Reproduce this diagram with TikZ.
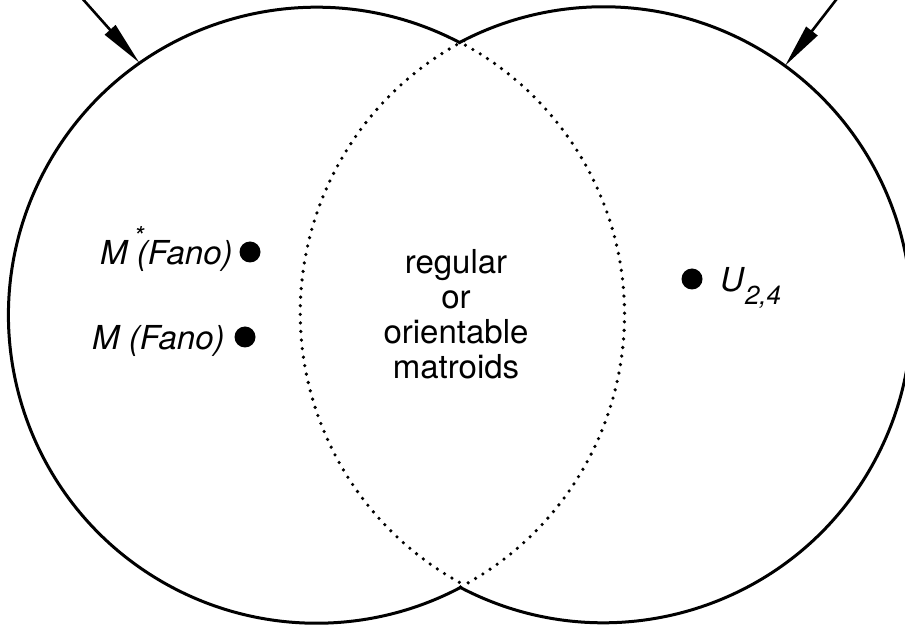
\documentclass[tikz,border=0pt]{standalone}
\usepackage{fontspec}
\setmainfont{TeX Gyre Heros}
\usetikzlibrary{arrows.meta,calc}
\tikzset{
  set/.style={circle, draw=none, minimum size=616pt, inner sep=0pt, outer sep=0pt},
  rim/.style={line width=3pt},
  lensline/.style={line width=3.6pt, line cap=round, dash pattern=on 0pt off 8.6pt},
  pointer/.style={line width=2.6pt, -{Triangle[length=44pt,width=14pt]}},
  elem/.style={circle, fill, inner sep=0pt, minimum size=21pt},
  lbl/.style={font=\fontsize{33}{35}\selectfont\itshape, inner sep=0pt, anchor=base west},
}
\begin{document}
\begin{tikzpicture}[x=1pt,y=1pt]
\clip (0,0) rectangle (905,627);
\node[set] (c1) at (316,312) {};
\node[set] (c2) at (604,312) {};
% solid outer arcs
\draw[rim] (c1.62.1) arc[start angle=62.1, end angle=297.9, radius=308];
\draw[rim] (c2.242.1) arc[start angle=242.1, end angle=477.9, radius=308];
% lens (dotted arcs)
\draw[lensline] (c1.-62.1) arc[start angle=-62.1, end angle=62.1, radius=308];
\draw[lensline] (c2.117.9) arc[start angle=117.9, end angle=242.1, radius=308];
% arrows
\coordinate (s1) at (72,640);
\coordinate (s2) at (846,640);
\draw[pointer] (s1) -- (c1.125.35);
\draw[pointer] (s2) -- (c2.54.65);
% center text
\node[font=\fontsize{33}{35}\selectfont, align=center, inner sep=0pt] (txt) at (456,313)
  {regular\\or\\orientable\\matroids};
% points
\node[elem] (pfs) at (250,375) {};
\node[lbl] (lfs) at (100,362) {M\rlap{\kern6pt\raisebox{19pt}{\fontsize{26}{26}\selectfont *}} (Fano)};
\node[elem] (pf) at (245,290) {};
\node[lbl] (lf) at (92,277) {M (Fano)};
\node[elem] (pu) at (692,348) {};
\node[lbl] (lu) at (720,335) {U\kern1pt\raisebox{-13pt}{\fontsize{26}{26}\selectfont 2,4}};
\end{tikzpicture}
\end{document}
